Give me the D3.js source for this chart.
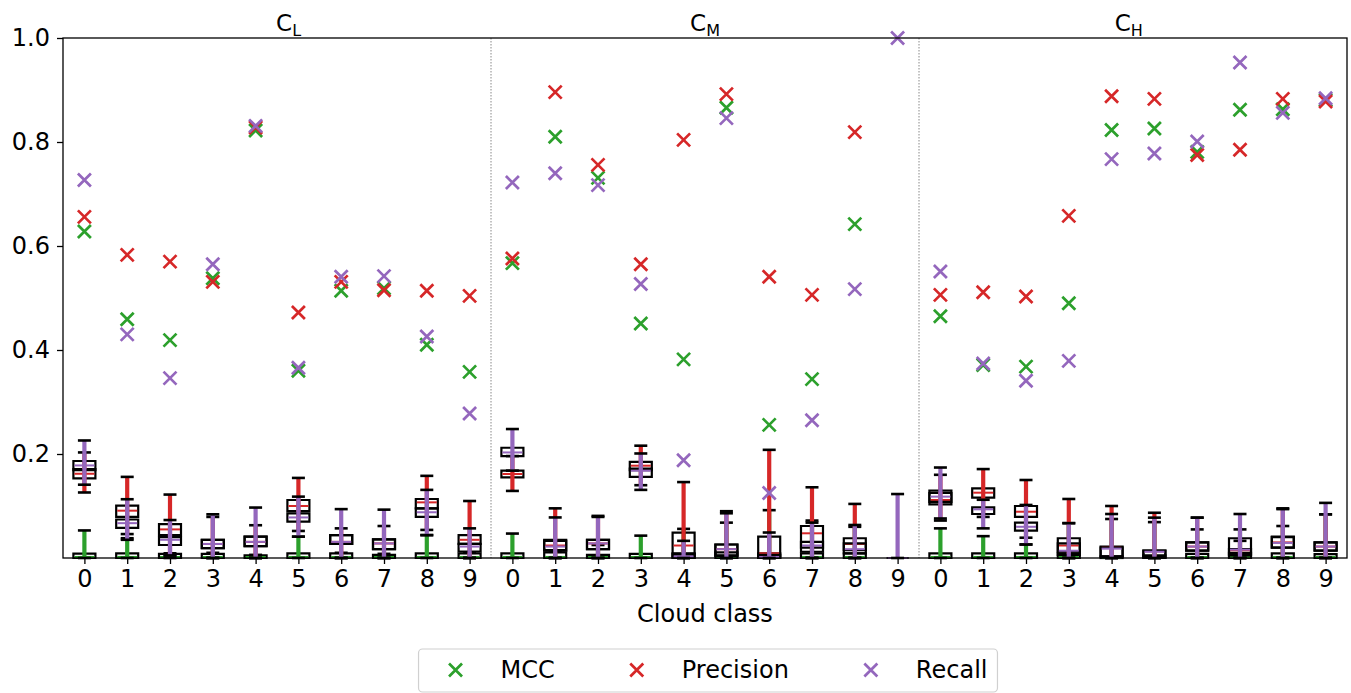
<!DOCTYPE html>
<html>
<head>
<meta charset="utf-8">
<script src="https://cdn.jsdelivr.net/npm/d3@7"></script>
<style>
  html, body { margin: 0; padding: 0; background: #fff; }
  svg { display: block; font-family: "DejaVu Sans", sans-serif; }
</style>
</head>
<body>
<svg id="chart" width="1351" height="693"></svg>
<script>
// ---------------- data ----------------
const classLabels = ["0","1","2","3","4","5","6","7","8","9",
                     "0","1","2","3","4","5","6","7","8","9",
                     "0","1","2","3","4","5","6","7","8","9"];
const groupNames = ["L", "M", "H"];
const groupTitlePos = [4.77, 14.5, 24.4];
const groupSeparators = [9.5, 19.5];
const yTicks = [0.2, 0.4, 0.6, 0.8, 1.0];
const metricNames = ["MCC", "Precision", "Recall"];
const metricColors = ["#2ca02c", "#d62728", "#9467bd"];

// scores (x markers)
const mccScore = [0.628,0.459,0.419,0.538,0.822,0.360,0.514,0.519,0.410,0.358,
                  0.567,0.810,0.731,0.451,0.382,0.866,0.256,0.344,0.642,null,
                  0.465,0.371,0.368,0.490,0.823,0.826,0.781,0.862,0.863,0.881];
const precisionScore = [0.656,0.583,0.570,0.531,0.828,0.472,0.531,0.515,0.514,0.504,
                  0.576,0.896,0.756,0.565,0.804,0.892,0.541,0.506,0.819,null,
                  0.506,0.511,0.503,0.658,0.888,0.883,0.775,0.785,0.883,0.878];
const recallScore = [0.727,0.430,0.346,0.565,0.831,0.366,0.541,0.542,0.426,0.278,
                  0.722,0.740,0.717,0.527,0.188,0.846,0.125,0.265,0.517,1.000,
                  0.551,0.374,0.341,0.379,0.767,0.778,0.801,0.953,0.856,0.884];

// box stats [whisker low, q1, median, q3, whisker high]
const mccBox = [
  [0,0,0.002,0.0085,0.053],[0,0,0.002,0.009,0.038],[0,0,0.002,0.008,0.009],[0,0,0.002,0.008,0.010],[0,0,0.002,0.005,0.006],
  [0,0,0.002,0.009,0.041],[0,0,0.002,0.009,0.010],[0,0,0.002,0.006,0.008],[0,0,0.002,0.009,0.044],[0,0,0.002,0.009,0.010],
  [0,0,0.002,0.009,0.047],[0,0,0.002,0.011,0.012],[0,0,0.002,0.006,0.025],[0,0,0.002,0.008,0.043],[0,0,0.002,0.009,0.056],
  [0,0,0.002,0.011,0.068],[0,0,0.002,0.009,0.092],[0,0,0.002,0.009,0.072],[0,0,0.002,0.009,0.060],null,
  [0,0,0.002,0.009,0.057],[0,0,0.002,0.009,0.042],[0,0,0.002,0.009,0.026],[0,0,0.002,0.009,0.067],[0,0,0.001,0.003,0.075],
  [0,0,0.002,0.005,0.069],[0,0,0.002,0.008,0.055],[0,0,0.002,0.010,0.055],[0,0,0.002,0.009,0.0615],[0,0,0.002,0.0075,0.084]
];
const precisionBox = [
  [0.126,0.153,0.162,0.171,0.203],[0.046,0.079,0.091,0.1006,0.156],[0.005,0.044,0.055,0.065,0.122],[0,0.019,0.027,0.035,0.079],[0,0.023,0.031,0.041,0.063],
  [0.052,0.090,0.100,0.1115,0.154],[0,0.027,0.031,0.044,0.057],[0,0.017,0.028,0.036,0.0615],[0.054,0.0955,0.107,0.1135,0.158],[0,0.027,0.035,0.044,0.1096],
  [0.129,0.155,0.1615,0.168,0.196],[0,0.015,0.024,0.035,0.0955],[0,0.017,0.028,0.035,0.081],[0.140,0.169,0.1775,0.185,0.216],[0,0.003,0.024,0.0487,0.146],
  [0,0.005,0.017,0.026,0.090],[0,0.003,0.009,0.041,0.208],[0,0.020,0.0475,0.0615,0.136],[0,0.015,0.027,0.038,0.104],null,
  [0.072,0.103,0.1115,0.125,0.160],[0.079,0.116,0.1256,0.134,0.171],[0.039,0.079,0.089,0.100,0.150],[0,0.012,0.024,0.038,0.1135],[0,0.003,0.020,0.022,0.100],
  [0,0.002,0.013,0.014,0.087],[0,0.014,0.022,0.030,0.0776],[0,0.007,0.015,0.017,0.033],[0,0.020,0.030,0.040,0.0955],[0,0.014,0.022,0.030,0.084]
];
const recallBox = [
  [0.141,0.169,0.178,0.1865,0.226],[0.035,0.058,0.067,0.074,0.113],[0.005,0.025,0.035,0.040,0.073],[0,0.019,0.027,0.035,0.084],[0,0.023,0.031,0.041,0.097],
  [0.041,0.070,0.078,0.086,0.118],[0,0.027,0.031,0.044,0.094],[0,0.017,0.028,0.036,0.093],[0.044,0.079,0.088,0.0955,0.131],[0,0.0125,0.022,0.027,0.057],
  [0.168,0.196,0.203,0.212,0.248],[0,0.014,0.022,0.033,0.078],[0,0.017,0.028,0.035,0.079],[0.131,0.156,0.168,0.172,0.201],[0,0,0.003,0.008,0.033],
  [0,0.004,0.017,0.026,0.086],[0,0,0.002,0.006,0.049],[0,0.012,0.024,0.031,0.068],[0,0.009,0.017,0.028,0.0635],[0,0,0,0,0.123],
  [0.076,0.108,0.118,0.1295,0.174],[0.057,0.0846,0.0936,0.0975,0.112],[0.026,0.0525,0.060,0.068,0.102],[0,0.006,0.014,0.028,0.067],[0,0.002,0.018,0.020,0.0846],
  [0,0,0.012,0.014,0.0776],[0,0.014,0.022,0.030,0.0776],[0,0.005,0.016,0.038,0.0846],[0,0.020,0.029,0.041,0.094],[0,0.014,0.022,0.030,0.106]
];

// ---------------- drawing ----------------
const svg = d3.select("#chart");
const plot = { left: 63, right: 1347, top: 38, bottom: 558 };
const x = d3.scaleLinear().domain([-0.5, 29.5]).range([plot.left, plot.right]);
const y = d3.scaleLinear().domain([0, 1]).range([plot.bottom, plot.top]);

// separators
svg.append("g").selectAll("line").data(groupSeparators).join("line")
  .attr("x1", d => x(d)).attr("x2", d => x(d))
  .attr("y1", plot.top).attr("y2", plot.bottom)
  .attr("stroke", "#888").attr("stroke-width", 1).attr("stroke-dasharray", "1.5,1.5");

// boxplots
const boxW = 22, capW = 13;
const boxSets = [mccBox, precisionBox, recallBox];
const gBoxes = svg.append("g");
boxSets.forEach((set, m) => {
  const color = metricColors[m];
  const g = gBoxes.append("g");
  set.forEach((s, i) => {
    if (!s) return;
    const [lo, q1, med, q3, hi] = s;
    const cx = x(i);
    g.append("path")
      .attr("d", `M${cx - boxW/2},${y(q1)}L${cx + boxW/2},${y(q1)}L${cx + boxW/2},${y(q3)}L${cx - boxW/2},${y(q3)}Z`)
      .attr("fill", "none").attr("stroke", "#000").attr("stroke-width", 2.2);
    g.append("line")
      .attr("x1", cx - boxW/2 + 1).attr("x2", cx + boxW/2 - 1)
      .attr("y1", y(med)).attr("y2", y(med))
      .attr("stroke", color).attr("stroke-width", 2);
    g.append("line")
      .attr("x1", cx).attr("x2", cx)
      .attr("y1", y(lo)).attr("y2", y(hi))
      .attr("stroke", color).attr("stroke-width", 4.2);
    [lo, hi].forEach(v => {
      g.append("line")
        .attr("x1", cx - capW/2).attr("x2", cx + capW/2)
        .attr("y1", y(v)).attr("y2", y(v))
        .attr("stroke", "#000").attr("stroke-width", 2.6);
    });
  });
});

// score markers
const xPath = "M-6.5,-6.5L6.5,6.5M-6.5,6.5L6.5,-6.5";
const scoreSets = [mccScore, precisionScore, recallScore];
scoreSets.forEach((set, m) => {
  svg.append("g").selectAll("path")
    .data(set.map((v, i) => ({ v, i })).filter(d => d.v !== null))
    .join("path")
    .attr("d", xPath)
    .attr("transform", d => `translate(${x(d.i)},${y(d.v)})`)
    .attr("fill", "none").attr("stroke", metricColors[m]).attr("stroke-width", 2.7);
});

// axes
const fontSize = 24;
const yAxis = svg.append("g").attr("transform", `translate(${plot.left},0)`)
  .call(d3.axisLeft(y).tickValues(yTicks).tickFormat(d3.format(".1f")).tickSize(6).tickPadding(7));
const xAxis = svg.append("g").attr("transform", `translate(0,${plot.bottom})`)
  .call(d3.axisBottom(x).tickValues(d3.range(classLabels.length)).tickFormat(i => classLabels[i]).tickSize(6).tickPadding(6));
[yAxis, xAxis].forEach(a => {
  a.select(".domain").remove();
  a.selectAll("line").attr("stroke", "#000").attr("stroke-width", 1.3);
  a.selectAll("text").attr("font-size", fontSize).attr("fill", "#000").attr("font-family", "DejaVu Sans");
});

// frame
svg.append("rect")
  .attr("x", plot.left).attr("y", plot.top)
  .attr("width", plot.right - plot.left).attr("height", plot.bottom - plot.top)
  .attr("fill", "none").attr("stroke", "#000").attr("stroke-width", 1.3);

// group titles
groupNames.forEach((n, k) => {
  const t = svg.append("text")
    .attr("x", x(groupTitlePos[k])).attr("y", 31)
    .attr("text-anchor", "middle").attr("font-size", 23).attr("fill", "#000");
  t.append("tspan").text("C");
  t.append("tspan").text(n).attr("font-size", 16).attr("dy", 5);
});

// x label
svg.append("text")
  .attr("x", (plot.left + plot.right) / 2).attr("y", 622)
  .attr("text-anchor", "middle").attr("font-size", fontSize).attr("fill", "#000")
  .text("Cloud class");

// legend
const leg = svg.append("g");
const legendY = 670;
const frame = leg.append("rect");
let cursor = 0;
const colSpacing = 56;
metricNames.forEach((name, m) => {
  const mx = cursor + 26;
  leg.append("path").attr("d", xPath)
    .attr("transform", `translate(${mx},${legendY})`)
    .attr("fill", "none").attr("stroke", metricColors[m]).attr("stroke-width", 2.7);
  const tx = leg.append("text").attr("x", cursor + 52 + 19).attr("y", legendY).attr("dy", "0.35em")
    .attr("font-size", fontSize).attr("fill", "#000").text(name);
  const w = tx.node().getComputedTextLength();
  cursor = cursor + 52 + 19 + w + (m < metricNames.length - 1 ? colSpacing : 0);
});
const legW = cursor + 11 + 10;
const legLeft = 708 - legW / 2;
leg.attr("transform", `translate(${legLeft + 11},0)`);
frame.attr("x", -11).attr("y", 649).attr("width", legW).attr("height", 43)
  .attr("rx", 4).attr("fill", "#fff").attr("stroke", "#d0d0d0").attr("stroke-width", 1.2);
</script>
</body>
</html>
